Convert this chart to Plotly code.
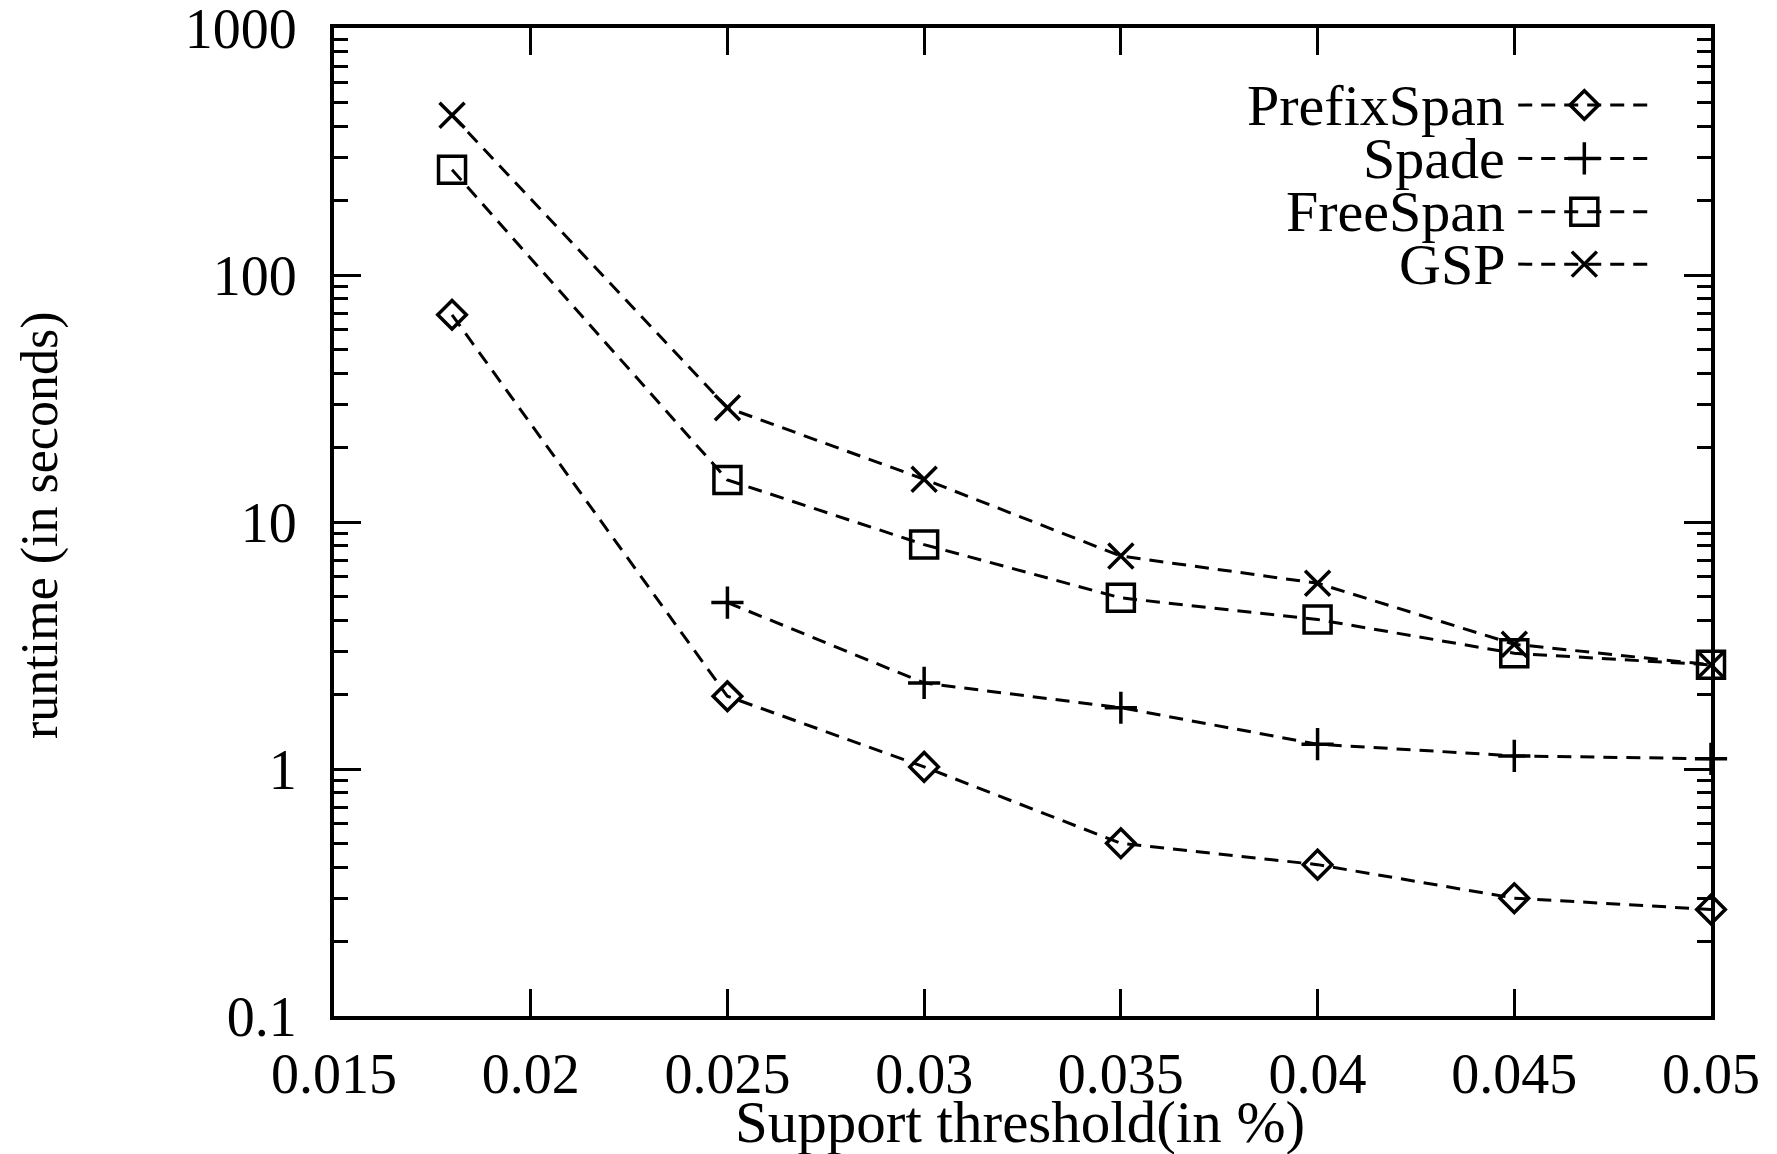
import plotly.graph_objects as go

support = [0.018, 0.025, 0.03, 0.035, 0.04, 0.045, 0.05]
support_spade = [0.025, 0.03, 0.035, 0.04, 0.045, 0.05]
prefixspan = [69, 1.97, 1.02, 0.50, 0.41, 0.30, 0.27]
spade = [4.72, 2.23, 1.77, 1.26, 1.13, 1.10]
freespan = [267, 14.8, 8.1, 4.93, 4.03, 2.94, 2.64]
gsp = [443, 29, 14.9, 7.28, 5.65, 3.2, 2.64]

x_tickvals = [0.015, 0.02, 0.025, 0.03, 0.035, 0.04, 0.045, 0.05]
x_ticktext = ["0.015", "0.02", "0.025", "0.03", "0.035", "0.04", "0.045", "0.05"]
y_tickvals = [0.1, 1, 10, 100, 1000]
y_ticktext = ["0.1", "1", "10", "100", "1000"]

series = [
    ("PrefixSpan", support, prefixspan, "diamond-open", 22),
    ("Spade", support_spade, spade, "cross-thin-open", 23),
    ("FreeSpan", support, freespan, "square-open", 27),
    ("GSP", support, gsp, "x-thin-open", 25),
]

FONT = "Liberation Serif"
DASH = "14px,9px"
fig = go.Figure()
for name, xs, ys, sym, sz in series:
    fig.add_trace(go.Scatter(
        x=xs, y=ys, mode="lines+markers", name=name,
        line=dict(color="black", width=3, dash=DASH),
        marker=dict(symbol=sym, size=sz, color="black",
                    line=dict(color="black", width=3.5)),
        cliponaxis=False, showlegend=False,
    ))

# custom gnuplot-style key (text left, sample right)
key_rows = [0.922, 0.868, 0.814, 0.761]
for (name, xs, ys, sym, sz), yr in zip(series, key_rows):
    fig.add_trace(go.Scatter(
        x=[0.860, 0.960], y=[yr, yr], mode="lines", xaxis="x2", yaxis="y2",
        line=dict(color="black", width=3, dash=DASH), showlegend=False,
        hoverinfo="skip"))
    fig.add_trace(go.Scatter(
        x=[0.908], y=[yr], mode="markers", xaxis="x2", yaxis="y2",
        marker=dict(symbol=sym, size=sz, color="black",
                    line=dict(color="black", width=3.5)), showlegend=False,
        hoverinfo="skip"))
    fig.add_annotation(x=0.852, y=yr, xref="paper", yref="paper", text=name,
                       showarrow=False, xanchor="right", yanchor="middle",
                       font=dict(family=FONT, size=58, color="black"))

# axis titles
fig.add_annotation(x=0.498, y=-0.107, xref="paper", yref="paper",
                   text="Support threshold(in %)", showarrow=False,
                   xanchor="center", yanchor="middle",
                   font=dict(family=FONT, size=59, color="black"))
fig.add_annotation(x=-0.2135, y=0.496, xref="paper", yref="paper",
                   text="runtime (in seconds)", showarrow=False, textangle=-90,
                   xanchor="center", yanchor="middle",
                   font=dict(family=FONT, size=52, color="black"))

axis_common = dict(showline=True, linecolor="black", linewidth=4, mirror="allticks",
                   ticks="inside", ticklen=27, tickwidth=3, tickcolor="black",
                   showgrid=False, zeroline=False, automargin=False,
                   ticklabeloverflow="allow",
                   tickfont=dict(family=FONT, size=56, color="black"))

fig.update_layout(
    width=1777, height=1154,
    margin=dict(l=326, r=74, t=20, b=146),
    paper_bgcolor="white", plot_bgcolor="white",
    xaxis=dict(range=[0.015, 0.05], tickvals=x_tickvals, ticktext=x_ticktext,
               ticklabelstandoff=6, **axis_common),
    yaxis=dict(type="log", range=[-1, 3], tickvals=y_tickvals, ticktext=y_ticktext,
               ticklabelstandoff=22,
               minor=dict(ticks="inside", ticklen=14, tickwidth=3, tickcolor="black",
                          dtick="D1", showgrid=False),
               **axis_common),
    xaxis2=dict(range=[0, 1], overlaying="x", visible=False, fixedrange=True),
    yaxis2=dict(range=[0, 1], overlaying="y", visible=False, fixedrange=True),
)

fig.write_html("out.html")
